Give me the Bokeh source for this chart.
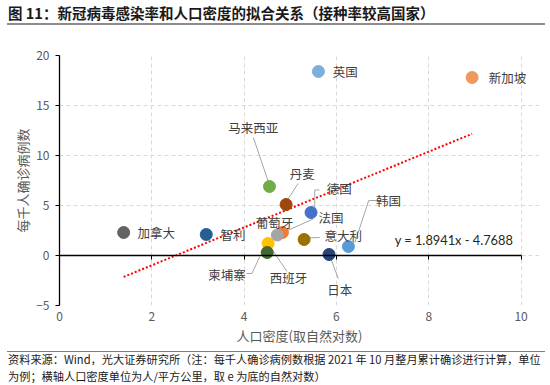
from bokeh.plotting import figure
from bokeh.models import (LinearAxis, FixedTicker, Div, Range1d, ColumnDataSource)
from bokeh.layouts import column
from bokeh.core.properties import value
from bokeh.embed import file_html
from bokeh.resources import INLINE

# ---------------- data ----------------
countries = ["英国", "新加坡", "马来西亚", "丹麦", "德国", "法国", "葡萄牙", "意大利",
             "韩国", "日本", "西班牙", "柬埔寨", "智利", "加拿大"]
density_ln = [5.61, 8.94, 4.55, 4.91, 5.45, 4.83, 4.72, 5.30, 6.26, 5.84, 4.52, 4.50, 3.18, 1.39]
cases_per_1000 = [18.4, 17.8, 6.9, 5.1, 4.3, 2.3, 2.05, 1.6, 0.9, 0.1, 1.2, 0.3, 2.1, 2.3]
colors = ["#7CAFDD", "#F1975A", "#70AD47", "#9E480E", "#4472C4", "#ED7D31", "#A5A5A5",
          "#997300", "#5B9BD5", "#264478", "#FFC000", "#43682B", "#255E91", "#636363"]

# label positions (data units) and alignment
label_x = [5.92, 9.30, 4.20, 5.26, 5.79, 5.61, 4.66, 5.74, 7.13, 6.07, 4.96, 3.63, 3.49, 1.69]
label_y = [18.4, 17.8, 12.8, 8.2, 6.7, 3.85, 3.35, 2.0, 5.5, -3.35, -2.2, -1.9, 2.1, 2.3]
label_align = ["left", "left", "center", "center", "left", "left", "center", "left",
               "center", "center", "center", "center", "left", "left"]

# leader lines (data units)
leader_xs = [[4.20, 4.53], [5.17, 4.93], [5.63, 5.53, 5.53], [5.50, 4.90],
             [5.35, 5.64], [6.89, 6.70, 6.40], [5.87, 6.04],
             [4.56, 4.93], [4.05, 4.17, 4.34]]
leader_ys = [[11.8, 7.3], [7.2, 5.5], [6.55, 6.55, 4.64], [3.66, 2.41],
             [1.75, 1.80], [5.5, 5.5, 1.3], [-0.2, -2.3],
             [0.9, -1.6], [-1.8, -1.8, -0.1]]

slope, intercept = 1.8941, -4.7688
eq_text = "y = 1.8941x - 4.7688"

x_ticks = [0, 2, 4, 6, 8, 10]
y_ticks = [-5, 0, 5, 10, 15, 20]

title_text = "图 11：新冠病毒感染率和人口密度的拟合关系（接种率较高国家）"
note_line1 = "资料来源：Wind，光大证券研究所（注：每千人确诊病例数根据 2021 年 10 月整月累计确诊进行计算，单位"
note_line2 = "为例；横轴人口密度单位为人/平方公里，取 e 为底的自然对数）"

CJK = "Noto Sans CJK SC"

# ---------------- figure ----------------
W = 550
p = figure(width=W, height=322, output_backend="svg", toolbar_location=None,
           x_range=Range1d(0, 10.4), y_range=Range1d(-5, 20),
           min_border_left=59, min_border_right=11, min_border_top=27, min_border_bottom=45,
           x_axis_location=None, y_axis_location=None, margin=0)
p.title.visible = False
p.outline_line_color = None
p.background_fill_color = "white"

# main axes
xaxis = LinearAxis(ticker=FixedTicker(ticks=x_ticks), axis_label="人口密度(取自然对数)")
xaxis.axis_line_color = None
xaxis.major_tick_line_color = None
xaxis.major_tick_in = 0
xaxis.major_tick_out = 0
xaxis.minor_tick_line_color = None
xaxis.minor_tick_in = 0
xaxis.minor_tick_out = 0
xaxis.major_label_text_font = CJK
xaxis.major_label_text_font_size = "12px"
xaxis.major_label_text_color = "#595959"
xaxis.major_label_standoff = 6
xaxis.axis_label_text_font = CJK
xaxis.axis_label_text_font_size = "13px"
xaxis.axis_label_text_font_style = "normal"
xaxis.axis_label_text_color = "#595959"
xaxis.axis_label_standoff = 2
p.add_layout(xaxis, "below")

zero_axis = LinearAxis(ticker=FixedTicker(ticks=x_ticks), fixed_location=0,
                       major_label_overrides={t: "" for t in x_ticks}, bounds=(0, 10))
zero_axis.axis_line_color = "#000000"
zero_axis.axis_line_width = 1.3
zero_axis.major_tick_line_color = "#000000"
zero_axis.major_tick_in = 0
zero_axis.major_tick_out = 4
zero_axis.minor_tick_line_color = None
p.add_layout(zero_axis, "below")

yaxis = LinearAxis(ticker=FixedTicker(ticks=y_ticks), axis_label="每千人确诊病例数")
yaxis.axis_line_color = "#000000"
yaxis.axis_line_width = 1.3
yaxis.major_tick_line_color = "#000000"
yaxis.major_tick_in = 0
yaxis.major_tick_out = 4
yaxis.minor_tick_line_color = None
yaxis.minor_tick_in = 0
yaxis.minor_tick_out = 0
yaxis.major_label_text_font = CJK
yaxis.major_label_text_font_size = "12px"
yaxis.major_label_text_color = "#595959"
yaxis.major_label_standoff = 6
yaxis.axis_label_text_font = CJK
yaxis.axis_label_text_font_size = "13px"
yaxis.axis_label_text_font_style = "normal"
yaxis.axis_label_text_color = "#595959"
yaxis.axis_label_standoff = 1
p.add_layout(yaxis, "left")

p.xgrid.ticker = FixedTicker(ticks=x_ticks)
p.ygrid.ticker = FixedTicker(ticks=y_ticks)
p.ygrid.bounds = (0, 10)
for g in (p.xgrid, p.ygrid):
    g.grid_line_color = "#D9D9D9"
    g.grid_line_dash = "4 3"
    g.grid_line_width = 1

# trend line from the fitted equation across the data span
x0, x1 = min(density_ln), max(density_ln)
p.line([x0, x1], [slope * x0 + intercept, slope * x1 + intercept],
       line_color="#FF0000", line_width=2, line_dash="2 2")

# leader lines
p.multi_line(leader_xs, leader_ys, line_color="#A6A6A6", line_width=1)

# points
src = ColumnDataSource(dict(x=density_ln, y=cases_per_1000, c=colors))
p.scatter("x", "y", source=src, size=12, fill_color="c", line_color="c")

# labels
lsrc = ColumnDataSource(dict(x=label_x, y=label_y, t=countries, a=label_align))
p.text("x", "y", text="t", source=lsrc, text_align="a", text_baseline="middle",
       text_font=value(CJK), text_font_size="12.5px", text_color="#404040")

p.text([9.83], [1.55], text=[eq_text], text_align="right", text_baseline="middle",
       text_font=value("Lato"), text_font_size="12.8px", text_color="#262626")

# ---------------- title / notes ----------------
title_div = Div(width=W, height=28, margin=0, text=(
    '<div style="position:relative;width:%dpx;height:28px;">'
    '<div style="position:absolute;left:8px;top:5px;white-space:nowrap;font-family:\'%s\';'
    'font-size:14.5px;font-weight:bold;line-height:16px;color:#1a1a1a;">%s</div>'
    '<div style="position:absolute;left:7px;top:23px;width:538px;height:2px;background:#8c8c8c;"></div>'
    '</div>') % (W, CJK, title_text))

notes_div = Div(width=W, height=35, margin=0, text=(
    '<div style="position:relative;width:%dpx;height:35px;">'
    '<div style="position:absolute;left:7px;top:1px;width:538px;height:1px;background:#7f7f7f;"></div>'
    '<div style="position:absolute;left:8px;top:3px;white-space:nowrap;font-family:\'%s\';'
    'font-size:11.2px;line-height:13px;color:#1a1a1a;">%s</div>'
    '<div style="position:absolute;left:8px;top:19.5px;white-space:nowrap;font-family:\'%s\';'
    'font-size:11.2px;line-height:13px;color:#1a1a1a;">%s</div>'
    '</div>') % (W, CJK, note_line1, CJK, note_line2))

layout = column(title_div, p, notes_div, spacing=0, margin=0)

open("out.html", "w").write(file_html(layout, INLINE))
